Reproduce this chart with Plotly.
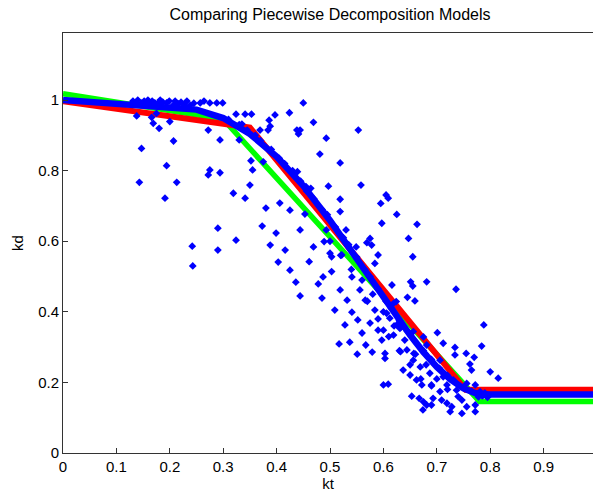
import plotly.graph_objects as go

# Model curves
red_kt = [0.0, 0.35, 0.754, 1.0]
red_kd = [0.997, 0.922, 0.179, 0.179]

green_kt = [0.0, 0.30, 0.78, 1.0]
green_kd = [1.018, 0.946, 0.146, 0.146]

blue_kt = [0.0, 0.10, 0.20, 0.22, 0.25, 0.30, 0.35, 0.40, 0.45, 0.50, 0.55, 0.60,
           0.65, 0.675, 0.70, 0.725, 0.75, 0.775, 0.80, 1.0]
blue_kd = [1.0, 0.991, 0.982, 0.980, 0.973, 0.949, 0.904, 0.840, 0.757, 0.659, 0.551, 0.439,
           0.334, 0.286, 0.244, 0.209, 0.183, 0.168, 0.166, 0.166]

obs_kt = [
    0.138, 0.147, 0.155, 0.163, 0.172, 0.178, 0.194, 0.207, 0.216, 0.227, 0.238, 0.257, 0.275, 0.288, 0.299, 0.450,
    0.131, 0.140, 0.152, 0.159, 0.167, 0.182, 0.187, 0.199, 0.210, 0.221, 0.232, 0.245, 0.264, 0.182, 0.155,
    0.324, 0.341, 0.353, 0.397, 0.424,
    0.138, 0.166, 0.169, 0.180, 0.200, 0.175, 0.272, 0.294, 0.207, 0.147, 0.194, 0.275, 0.272, 0.294, 0.143,
    0.213, 0.191, 0.319, 0.341, 0.330, 0.352, 0.355, 0.350, 0.375, 0.386, 0.384, 0.388, 0.369, 0.438, 0.441,
    0.439, 0.456, 0.335, 0.242, 0.243, 0.290, 0.290, 0.324, 0.373, 0.380,
    0.469, 0.444, 0.493, 0.553, 0.481, 0.519, 0.558, 0.497, 0.464, 0.519, 0.519, 0.605, 0.609, 0.595, 0.625,
    0.597, 0.663, 0.530, 0.493, 0.469, 0.489, 0.575, 0.569, 0.578, 0.549, 0.647, 0.655, 0.590, 0.584, 0.500,
    0.503, 0.522, 0.461, 0.503, 0.487, 0.541,
    0.616, 0.651, 0.655, 0.681, 0.736, 0.645, 0.659, 0.624, 0.788, 0.701, 0.712, 0.734, 0.784, 0.755, 0.770,
    0.734, 0.762, 0.765, 0.800, 0.815, 0.600, 0.597, 0.603, 0.603, 0.619, 0.632, 0.644, 0.657, 0.656, 0.669,
    0.637, 0.650, 0.662, 0.687, 0.672, 0.600, 0.609, 0.690, 0.706, 0.693, 0.653, 0.667, 0.675, 0.681, 0.690,
    0.674, 0.709, 0.719, 0.728, 0.725, 0.747, 0.756, 0.747, 0.772, 0.772, 0.737, 0.756, 0.772, 0.781, 0.787,
    0.793, 0.778, 0.712, 0.731, 0.719, 0.706, 0.690, 0.678, 0.681, 0.656, 0.675, 0.631, 0.625, 0.612, 0.606,
    0.619, 0.634,
    0.519, 0.532, 0.541, 0.552, 0.528, 0.560, 0.537, 0.567, 0.579, 0.551, 0.517, 0.566, 0.584, 0.575, 0.590,
    0.556, 0.509, 0.485, 0.478, 0.444, 0.436, 0.425, 0.403, 0.416, 0.388, 0.399, 0.444, 0.453, 0.425, 0.406,
    0.310, 0.330, 0.345, 0.360, 0.370, 0.390, 0.405, 0.415, 0.430, 0.445, 0.455, 0.470, 0.485, 0.495, 0.510,
    0.525, 0.535, 0.550, 0.565, 0.575, 0.590, 0.605, 0.615, 0.630, 0.645, 0.660, 0.675, 0.690, 0.705, 0.720,
    0.735, 0.750, 0.765, 0.775, 0.785, 0.790, 0.795,
    0.560, 0.580, 0.600, 0.620, 0.640, 0.660, 0.680, 0.700, 0.720, 0.740, 0.540, 0.520, 0.500, 0.570, 0.590,
    0.610, 0.630, 0.650, 0.670, 0.690,
]
obs_kd = [
    0.992, 0.991, 0.992, 0.991, 0.992, 0.991, 0.992, 0.986, 0.989, 0.986, 0.985, 0.992, 0.992, 0.992, 0.992, 0.992,
    0.997, 1.000, 0.997, 1.000, 0.997, 1.000, 0.994, 0.997, 0.997, 0.994, 0.997, 0.991, 0.997, 0.989, 0.986,
    0.960, 0.960, 0.960, 0.958, 0.964,
    0.955, 0.951, 0.934, 0.920, 0.939, 0.962, 0.915, 0.887, 0.884, 0.863, 0.814, 0.802, 0.788, 0.794, 0.767,
    0.767, 0.722, 0.736, 0.722, 0.887, 0.828, 0.802, 0.759, 0.825, 0.943, 0.915, 0.926, 0.915, 0.915, 0.904,
    0.797, 0.742, 0.932, 0.586, 0.530, 0.637, 0.575, 0.603, 0.643, 0.694,
    0.937, 0.915, 0.892, 0.915, 0.847, 0.822, 0.759, 0.756, 0.750, 0.719, 0.684, 0.731, 0.722, 0.707, 0.676,
    0.651, 0.648, 0.632, 0.632, 0.584, 0.599, 0.608, 0.596, 0.589, 0.584, 0.608, 0.556, 0.561, 0.537, 0.566,
    0.556, 0.561, 0.542, 0.514, 0.499, 0.499,
    0.476, 0.485, 0.473, 0.485, 0.464, 0.441, 0.431, 0.429, 0.363, 0.341, 0.311, 0.299, 0.303, 0.282, 0.271,
    0.278, 0.252, 0.235, 0.230, 0.212, 0.348, 0.320, 0.282, 0.268, 0.334, 0.287, 0.292, 0.282, 0.263, 0.244,
    0.235, 0.221, 0.207, 0.226, 0.193, 0.193, 0.195, 0.193, 0.174, 0.155, 0.161, 0.155, 0.145, 0.136, 0.136,
    0.122, 0.150, 0.141, 0.131, 0.117, 0.150, 0.131, 0.112, 0.136, 0.117, 0.178, 0.197, 0.193, 0.174, 0.164,
    0.161, 0.159, 0.216, 0.207, 0.193, 0.263, 0.263, 0.282, 0.306, 0.344, 0.329, 0.353, 0.363, 0.382, 0.396,
    0.424, 0.358,
    0.462, 0.433, 0.399, 0.377, 0.363, 0.340, 0.314, 0.306, 0.286, 0.280, 0.309, 0.433, 0.405, 0.368, 0.348,
    0.462, 0.405, 0.439, 0.479, 0.445, 0.484, 0.518, 0.541, 0.575, 0.589, 0.623, 0.632, 0.677, 0.688, 0.708,
    0.945, 0.930, 0.915, 0.900, 0.885, 0.860, 0.835, 0.820, 0.800, 0.770, 0.755, 0.720, 0.690, 0.675, 0.640,
    0.610, 0.590, 0.555, 0.520, 0.500, 0.465, 0.430, 0.410, 0.375, 0.345, 0.315, 0.290, 0.265, 0.240, 0.220,
    0.200, 0.185, 0.175, 0.168, 0.162, 0.170, 0.158,
    0.490, 0.450, 0.400, 0.360, 0.320, 0.280, 0.250, 0.210, 0.180, 0.160, 0.520, 0.560, 0.600, 0.430, 0.380,
    0.330, 0.290, 0.250, 0.210, 0.190,
]

x_ticks = [0, 0.1, 0.2, 0.3, 0.4, 0.5, 0.6, 0.7, 0.8, 0.9]
x_tick_text = ["0", "0.1", "0.2", "0.3", "0.4", "0.5", "0.6", "0.7", "0.8", "0.9"]
y_ticks = [0, 0.2, 0.4, 0.6, 0.8, 1.0]
y_tick_text = ["0", "0.2", "0.4", "0.6", "0.8", "1"]

FONT = "Liberation Sans, Arial, Helvetica, sans-serif"

fig = go.Figure()
fig.add_trace(go.Scatter(x=green_kt, y=green_kd, mode="lines",
                         line=dict(color="#00FF00", width=5.5), showlegend=False))
fig.add_trace(go.Scatter(x=red_kt, y=red_kd, mode="lines",
                         line=dict(color="#FF0000", width=6), showlegend=False))
fig.add_trace(go.Scatter(x=blue_kt, y=blue_kd, mode="lines",
                         line=dict(color="#0000FF", width=6.5), showlegend=False))
fig.add_trace(go.Scatter(x=obs_kt, y=obs_kd, mode="markers",
                         marker=dict(symbol="diamond", size=6, color="#0000FF", line=dict(width=0)),
                         showlegend=False, hoverinfo="skip"))

axis_common = dict(showgrid=False, zeroline=False, showline=True, linecolor="#333333", linewidth=1,
                   ticks="inside", ticklen=5, tickcolor="#333333",
                   tickfont=dict(family=FONT, size=15, color="#000000"))

fig.update_layout(
    width=593, height=494,
    margin=dict(l=63, r=0, t=33, b=41),
    paper_bgcolor="white", plot_bgcolor="white",
    title=dict(text="Comparing Piecewise Decomposition Models", x=330 / 593, xanchor="center",
               y=1 - 14 / 494, yanchor="middle", yref="container",
               font=dict(family=FONT, size=16, color="#000000")),
    xaxis=dict(range=[0, 0.9925], tickvals=x_ticks, ticktext=x_tick_text, mirror=True,
               title=dict(text="kt", font=dict(family=FONT, size=15, color="#000000"), standoff=3),
               **axis_common),
    yaxis=dict(range=[0, 1.19], tickvals=y_ticks, ticktext=y_tick_text, mirror=False,
               title=dict(text="kd", font=dict(family=FONT, size=15, color="#000000"), standoff=10),
               **axis_common),
)

fig.write_html("out.html")
